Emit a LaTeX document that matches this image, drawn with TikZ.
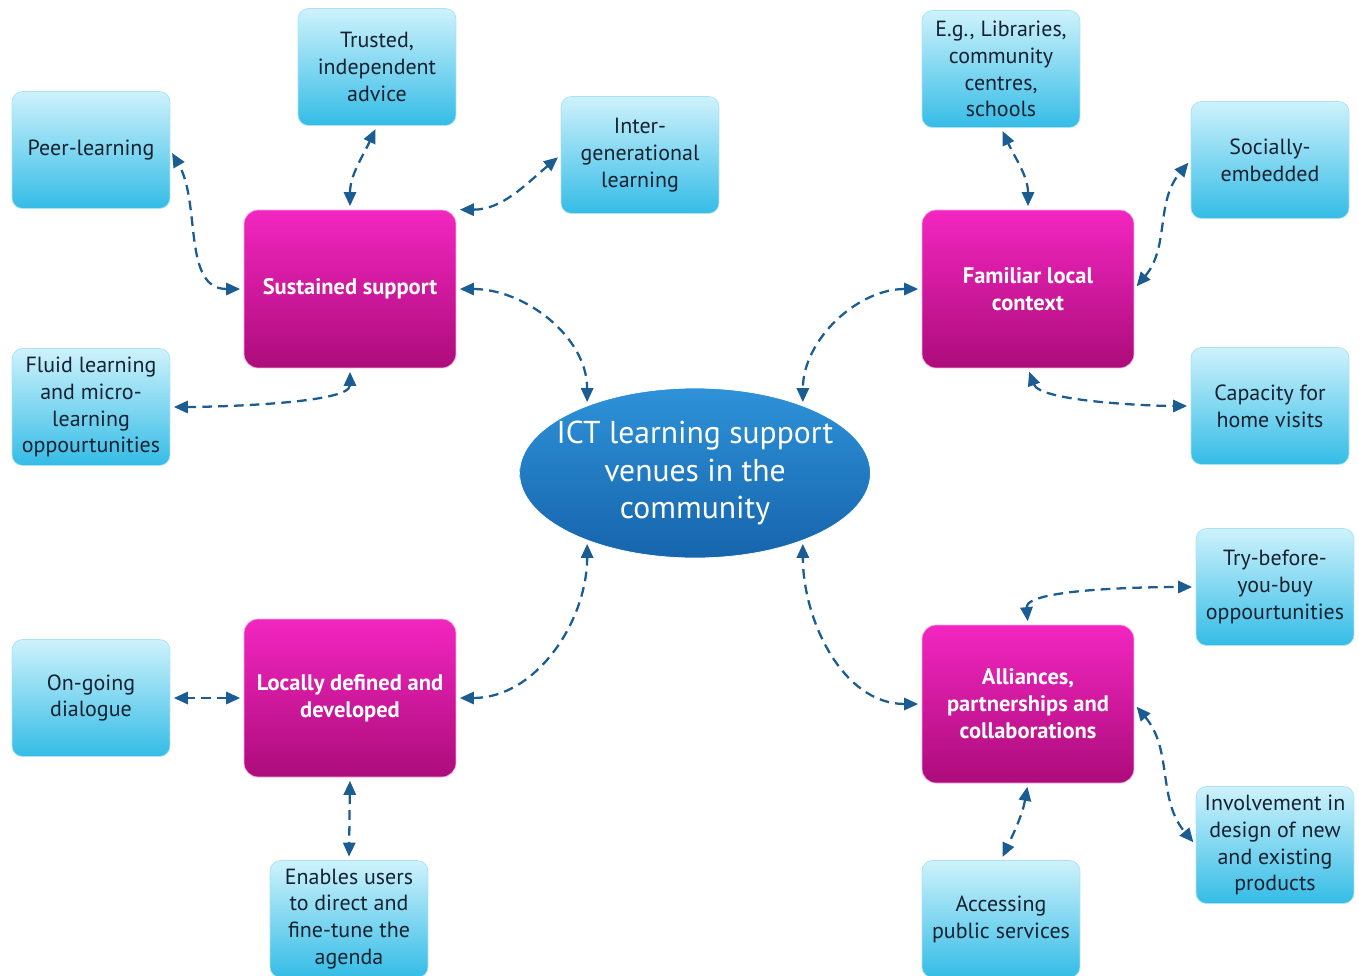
\documentclass[tikz,border=0pt]{standalone}
\usepackage{fontspec}
\setmainfont{PT Sans}
\usetikzlibrary{arrows.meta, shapes.geometric, positioning}

\definecolor{leaftop}{RGB}{206,242,252}
\definecolor{leafbot}{RGB}{52,188,230}
\definecolor{leafedge}{RGB}{170,226,244}
\definecolor{leaftext}{RGB}{22,34,48}
\definecolor{hubtop}{RGB}{242,38,192}
\definecolor{hubbot}{RGB}{172,12,122}
\definecolor{hubedge}{RGB}{250,170,226}
\definecolor{coretop}{RGB}{46,146,216}
\definecolor{corebot}{RGB}{22,100,172}
\definecolor{arrowblue}{RGB}{27,92,146}

\begin{document}
\begin{tikzpicture}[x=0.02cm, y=0.02cm]
\tikzstyle{leaf}=[rectangle, rounded corners=6pt, minimum width=3.16cm, minimum height=2.34cm, inner sep=1pt, top color=leaftop, bottom color=leafbot, draw=leafedge, text=leaftext, align=center, font=\fontsize{12.5}{15.3}\selectfont]
\tikzstyle{hub}=[rectangle, rounded corners=8pt, minimum width=4.24cm, minimum height=3.16cm, top color=hubtop, bottom color=hubbot, draw=hubedge, text=white, align=center, font=\bfseries\fontsize{12.8}{15.3}\selectfont]
\tikzstyle{core}=[ellipse, minimum width=7.02cm, minimum height=3.4cm, inner xsep=-1cm, inner ysep=-0.4cm, top color=coretop, bottom color=corebot, draw=white, text=white, align=center, font=\fontsize{18}{21.5}\selectfont]
\tikzstyle{connect}=[{Triangle[length=8pt,width=7pt]}-{Triangle[length=8pt,width=7pt]}, line width=1.3pt, draw=arrowblue, dash pattern=on 5.5pt off 3.5pt, shorten <=2pt, shorten >=2pt]

\useasboundingbox (0,0) rectangle (1359,-975);

% centre
\node[core] (ict) at (695, -473) {ICT learning support\\venues in the\\community};

% the four hubs
\node[hub] (sus) at (350, -289) {Sustained support};
\node[hub] (fam) at (1028, -289) {Familiar local\\context};
\node[hub] (loc) at (350, -698) {Locally defined and\\developed};
\node[hub] (all) at (1028, -704) {Alliances,\\partnerships and\\collaborations};

% leaves round the hubs
\node[leaf] (trust) at (377, -67) {Trusted,\\independent\\advice};
\node[leaf] (peer) at (91, -150) {Peer-learning};
\node[leaf] (inter) at (640, -155) {Inter-\\generational\\learning};
\node[leaf] (fluid) at (91, -407) {Fluid learning\\and micro-\\learning\\oppourtunities};
\node[leaf] (lib) at (1001, -69) {E.g., Libraries,\\community\\centres,\\schools};
\node[leaf] (soc) at (1270, -160) {Socially-\\embedded};
\node[leaf] (cap) at (1270, -406) {Capacity for\\home visits};
\node[leaf] (try) at (1275, -587) {Try-before-\\you-buy\\oppourtunities};
\node[leaf] (inv) at (1275, -845) {Involvement in\\design of new\\and existing\\products};
\node[leaf] (acc) at (1001, -919) {Accessing\\public services};
\node[leaf] (ongo) at (91, -698) {On-going\\dialogue};
\node[leaf] (enab) at (349, -919) {Enables users\\to direct and\\fine-tune the\\agenda};

% hubs to centre
\path (sus.east) edge [connect, out=0, in=90] (ict.148);
\path (fam.west) edge [connect, out=180, in=90] (ict.32);
\path (loc.east) edge [connect, out=0, in=-90] (ict.212);
\path (all.west) edge [connect, out=180, in=-90] (ict.328);

% sustained support
\path (sus.west) edge [connect, out=180, in=-60] (peer.east);
\path (sus.north) edge [connect, out=90, in=-115] (trust.south);
\path (sus.north east) edge [connect, out=0, in=-140] (inter.west);
\path (sus.south) edge [connect, out=-90, in=0, looseness=0.5] (fluid.east);

% familiar local context
\path (fam.north) edge [connect, out=90, in=-65] (lib.south);
\path (fam.east) edge [connect, out=50, in=-130] (soc.west);
\path (fam.south) edge [connect, out=-70, in=180, looseness=0.55] (cap.west);

% alliances
\path (all.north) edge [connect, out=95, in=180, looseness=0.55] (try.west);
\path (all.east) edge [connect, out=-50, in=130] (inv.west);
\path (all.south) edge [connect, out=-100, in=65] (acc.north);

% locally defined
\path (loc.west) edge [connect] (ongo.east);
\path (loc.south) edge [connect] (enab.north);
\end{tikzpicture}
\end{document}
